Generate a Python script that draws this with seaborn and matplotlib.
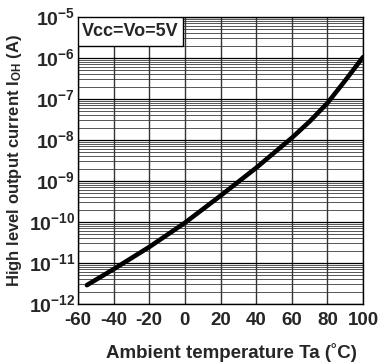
import matplotlib
matplotlib.use("Agg")
import matplotlib.pyplot as plt
import matplotlib.ticker as mticker
import matplotlib.transforms as mtransforms
from matplotlib.patches import Rectangle
import seaborn as sns
import pandas as pd
import numpy as np

# Data
temperature = [-55, -40, -20, 0, 20, 40, 60, 70, 80, 90, 100]
log_ioh = [-11.54, -11.15, -10.61, -10.02, -9.36, -8.68, -7.95, -7.55, -7.10, -6.55, -5.98]
ioh = [10 ** v for v in log_ioh]

x_ticks = [-60, -40, -20, 0, 20, 40, 60, 80, 100]
y_exponents = [-12, -11, -10, -9, -8, -7, -6, -5]
y_tick_labels = [r"$\mathbf{10^{%d}}$" % e for e in y_exponents]

sns.set_style("white")
plt.rcParams["font.family"] = ["Liberation Sans", "DejaVu Sans"]
plt.rcParams["mathtext.fontset"] = "custom"
plt.rcParams["mathtext.rm"] = "Liberation Sans"
plt.rcParams["mathtext.bf"] = "Liberation Sans:bold"
plt.rcParams["mathtext.it"] = "Liberation Sans:italic"

df = pd.DataFrame({"T": temperature, "I": ioh})

fig = plt.figure(figsize=(3.86, 3.64), dpi=100)
ax = fig.add_axes([78 / 386, 1 - 304 / 364, 285 / 386, 287 / 364])

ax.set_yscale("log")
ax.set_xlim(-60, 100)
ax.set_ylim(1e-12, 1e-5)

ax.set_xticks(x_ticks)
ax.set_xticklabels([str(v) for v in x_ticks], fontsize=13.5, fontweight="bold")
ax.yaxis.set_major_locator(mticker.FixedLocator([10.0 ** e for e in y_exponents]))
ax.yaxis.set_major_formatter(mticker.FixedFormatter(y_tick_labels))
ax.yaxis.set_minor_locator(mticker.LogLocator(base=10, subs=np.arange(2, 10), numticks=100))
ax.yaxis.set_minor_formatter(mticker.NullFormatter())
for lab in ax.get_yticklabels():
    lab.set_fontsize(14)
    lab.set_verticalalignment("top")

ax.tick_params(axis="both", which="both", length=0)
ax.tick_params(axis="y", pad=2)
ax.tick_params(axis="x", pad=6)
offset = mtransforms.ScaledTranslation(0, 10 / 100, fig.dpi_scale_trans)
for lab in ax.get_yticklabels():
    lab.set_transform(lab.get_transform() + offset)

ax.grid(True, which="major", axis="y", color="black", linewidth=0.9)
ax.grid(True, which="minor", axis="y", color="#3a3a3a", linewidth=0.6)
ax.grid(True, which="major", axis="x", color="#333333", linewidth=1.0)
ax.set_axisbelow(True)
for s in ax.spines.values():
    s.set_color("black")
    s.set_linewidth(1.0)

sns.lineplot(data=df, x="T", y="I", ax=ax, color="black", linewidth=3.3, zorder=5)

ax.set_xlabel("Ambient temperature Ta (˚C)", fontsize=13.5, fontweight="bold")
ax.xaxis.set_label_coords((231 - 78) / 285, -(352 - 304) / 287)
ax.xaxis.label.set_verticalalignment("center")
ax.set_ylabel(r"High level output current I$\mathbf{_{OH}}$ (A)", fontsize=12, fontweight="bold")
ax.yaxis.set_label_coords(-(78 - 15) / 285, 0.5)
ax.yaxis.label.set_verticalalignment("center")

ax.add_patch(Rectangle((0, 1 - 29 / 287), 105 / 285, 29 / 287, transform=ax.transAxes,
                       facecolor="white", edgecolor="black", linewidth=1.0, zorder=6))
ax.text(52 / 285, 1 - 14.5 / 287, "Vcc=Vo=5V", transform=ax.transAxes, ha="center", va="center",
        fontsize=13, fontweight="bold", zorder=7)

fig.savefig("out.png", dpi=100)
